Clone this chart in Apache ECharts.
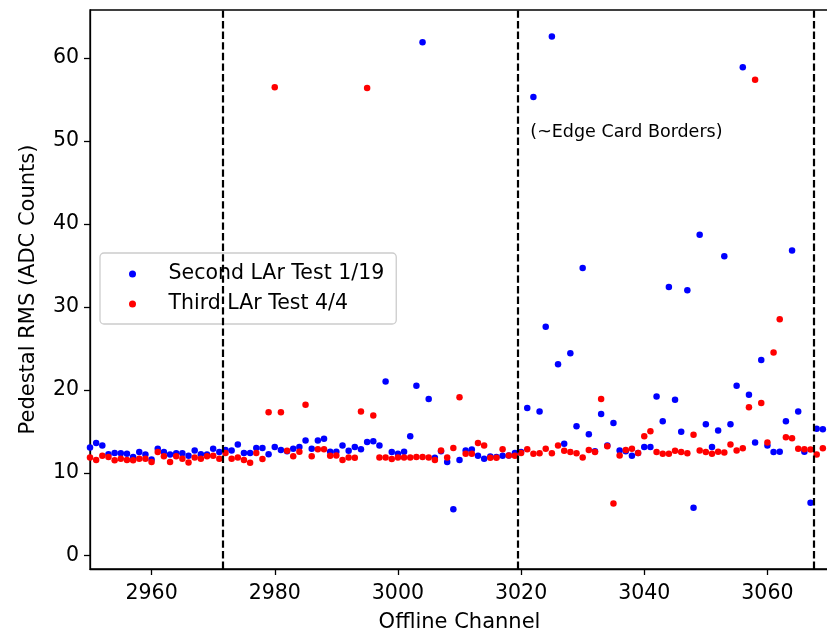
<!DOCTYPE html>
<html>
<head>
<meta charset="utf-8">
<script src="https://cdn.jsdelivr.net/npm/echarts@6/dist/echarts.min.js"></script>
<style>
    html, body { margin: 0; padding: 0; background: #fff; }
    #chart { width: 827px; height: 633px; }
</style>
</head>
<body>
<div id="chart"></div>
<script>
(function() {
    'use strict';

    // offline channels 2950 .. 3069, one point per channel and test
    var firstChannel = 2950;

    var secondTestRms = [
        13.05, 13.6, 13.3, 12.25, 12.4, 12.35, 12.3, 11.9, 12.5, 12.2,
        11.6, 12.9, 12.5, 12.2, 12.35, 12.35, 12.05, 12.7, 12.25, 12.2,
        12.9, 12.5, 12.75, 12.7, 13.4, 12.4, 12.4, 13.0, 13.0, 12.25,
        13.1, 12.75, 12.6, 12.9, 13.1, 13.9, 12.9, 13.9, 14.1, 12.55,
        12.55, 13.3, 12.65, 13.1, 12.85, 13.7, 13.8, 13.3, 21.0, 12.5,
        12.3, 12.55, 14.4, 20.5, 61.9, 18.9, 11.8, 12.6, 11.3, 5.6,
        11.55, 12.7, 12.8, 12.05, 11.7, 11.95, 11.9, 12.05, 12.1, 12.4,
        12.5, 17.8, 55.3, 17.4, 27.6, 62.6, 23.1, 13.5, 24.4, 15.6,
        34.7, 14.65, 12.6, 17.1, 13.3, 16.0, 12.7, 12.6, 12.05, 12.4,
        13.1, 13.1, 19.2, 16.2, 32.4, 18.8, 14.95, 32.0, 5.8, 38.7,
        15.85, 13.1, 15.1, 36.1, 15.85, 20.5, 58.9, 19.4, 13.65, 23.6,
        13.3, 12.5, 12.55, 16.2, 36.8, 17.4, 12.55, 6.4, 15.3, 15.25
    ];

    var thirdTestRms = [
        11.85, 11.55, 12.05, 11.9, 11.5, 11.7, 11.55, 11.5, 11.7, 11.7,
        11.3, 12.5, 12.0, 11.3, 12.0, 11.7, 11.25, 11.85, 11.7, 12.0,
        12.05, 11.7, 12.4, 11.7, 11.85, 11.55, 11.2, 12.4, 11.65, 17.3,
        56.5, 17.3, 12.65, 12.0, 12.55, 18.2, 12.0, 12.85, 12.85, 12.05,
        12.1, 11.55, 11.85, 11.8, 17.4, 56.4, 16.9, 11.85, 11.85, 11.65,
        11.85, 11.85, 11.85, 11.9, 11.9, 11.85, 11.55, 12.7, 11.85, 13.0,
        19.1, 12.3, 12.3, 13.6, 13.3, 11.8, 11.8, 12.85, 12.1, 12.05,
        12.4, 12.85, 12.3, 12.35, 12.9, 12.35, 13.3, 12.65, 12.5, 12.35,
        11.85, 12.75, 12.5, 18.9, 13.2, 6.3, 12.1, 12.75, 12.9, 12.4,
        14.4, 15.0, 12.5, 12.3, 12.3, 12.65, 12.5, 12.35, 14.6, 12.7,
        12.5, 12.3, 12.55, 12.45, 13.4, 12.7, 12.95, 17.9, 57.4, 18.4,
        13.65, 24.5, 28.5, 14.3, 14.15, 12.9, 12.85, 12.8, 12.2, 12.95
    ];

    var seriesNames = ['Second LAr Test 1/19', 'Third LAr Test 4/4'];
    var borderChannels = [2971.5, 3019.5, 3067.5];
    var xTicks = [2960, 2980, 3000, 3020, 3040, 3060];
    var yTicks = [0, 10, 20, 30, 40, 50, 60];
    var noteText = '(~Edge Card Borders)';
    var noteAt = [3021.5, 51];

    var FONT = 'DejaVu Sans';

    function toPoints(values) {
        return values.map(function (v, i) {
            return [firstChannel + i, v];
        });
    }

    function plainNumber(v) {
        return String(v);
    }

    var axisLine = { show: true, onZero: false, lineStyle: { color: '#000', width: 1.3 } };
    var tickLine = { color: '#000', width: 1.3 };
    var titleStyle = { fontFamily: FONT, fontSize: 21, color: '#000' };

    var chart = echarts.init(document.getElementById('chart'));

    var option = {
        animation: false,
        backgroundColor: '#fff',
        grid: {
            left: 90, top: 10, right: -2, bottom: 64,
            outerBoundsMode: 'none',
            containLabel: false,
            show: true, borderColor: '#000', borderWidth: 1.3
        },
        legend: {
            orient: 'vertical',
            left: 100, top: 253,
            icon: 'circle',
            itemWidth: 14, itemHeight: 7, itemGap: 6,
            padding: [9, 12, 8, 29],
            borderColor: '#cccccc', borderWidth: 1.3, borderRadius: 4,
            backgroundColor: 'rgba(255,255,255,0.8)',
            textStyle: {
                fontFamily: FONT, fontSize: 20.5, color: '#000',
                lineHeight: 24, padding: [0, 0, 0, 24]
            },
            data: seriesNames
        },
        xAxis: {
            type: 'value',
            min: 2950, max: 3070,
            name: 'Offline Channel',
            nameLocation: 'middle',
            nameGap: 43,
            nameTextStyle: titleStyle,
            axisLine: axisLine,
            axisTick: { show: true, length: 6, customValues: xTicks, lineStyle: tickLine },
            axisLabel: {
                customValues: xTicks, margin: 14, formatter: plainNumber,
                fontFamily: FONT, fontSize: 20.5, color: '#000'
            },
            splitLine: { show: false }
        },
        yAxis: {
            type: 'value',
            min: -1.6, max: 65.8,
            name: 'Pedestal RMS (ADC Counts)',
            nameLocation: 'middle',
            nameGap: 51,
            nameTextStyle: titleStyle,
            axisLine: axisLine,
            axisTick: { show: true, length: 6, customValues: yTicks, lineStyle: tickLine },
            axisLabel: {
                customValues: yTicks, margin: 11, formatter: plainNumber,
                fontFamily: FONT, fontSize: 20.5, color: '#000'
            },
            splitLine: { show: false }
        },
        series: [
            {
                name: seriesNames[0],
                type: 'scatter',
                symbolSize: 6.5,
                itemStyle: { color: '#0000ff', opacity: 1 },
                data: toPoints(secondTestRms)
            },
            {
                name: seriesNames[1],
                type: 'scatter',
                symbolSize: 6.5,
                itemStyle: { color: '#ff0000', opacity: 1 },
                data: toPoints(thirdTestRms),
                markLine: {
                    silent: true,
                    symbol: ['none', 'none'],
                    label: { show: false },
                    lineStyle: { color: '#000', type: [7.4, 3.2], width: 2.2 },
                    data: borderChannels.map(function (c) { return { xAxis: c }; })
                }
            }
        ]
    };

    chart.setOption(option);

    var p = chart.convertToPixel({ gridIndex: 0 }, noteAt);
    chart.setOption({
        graphic: [{
            type: 'text',
            x: p[0], y: p[1],
            style: {
                text: noteText,
                fontFamily: FONT, fontSize: 17.5,
                fill: '#000',
                verticalAlign: 'middle'
            }
        }]
    });
})();
</script>
</body>
</html>
